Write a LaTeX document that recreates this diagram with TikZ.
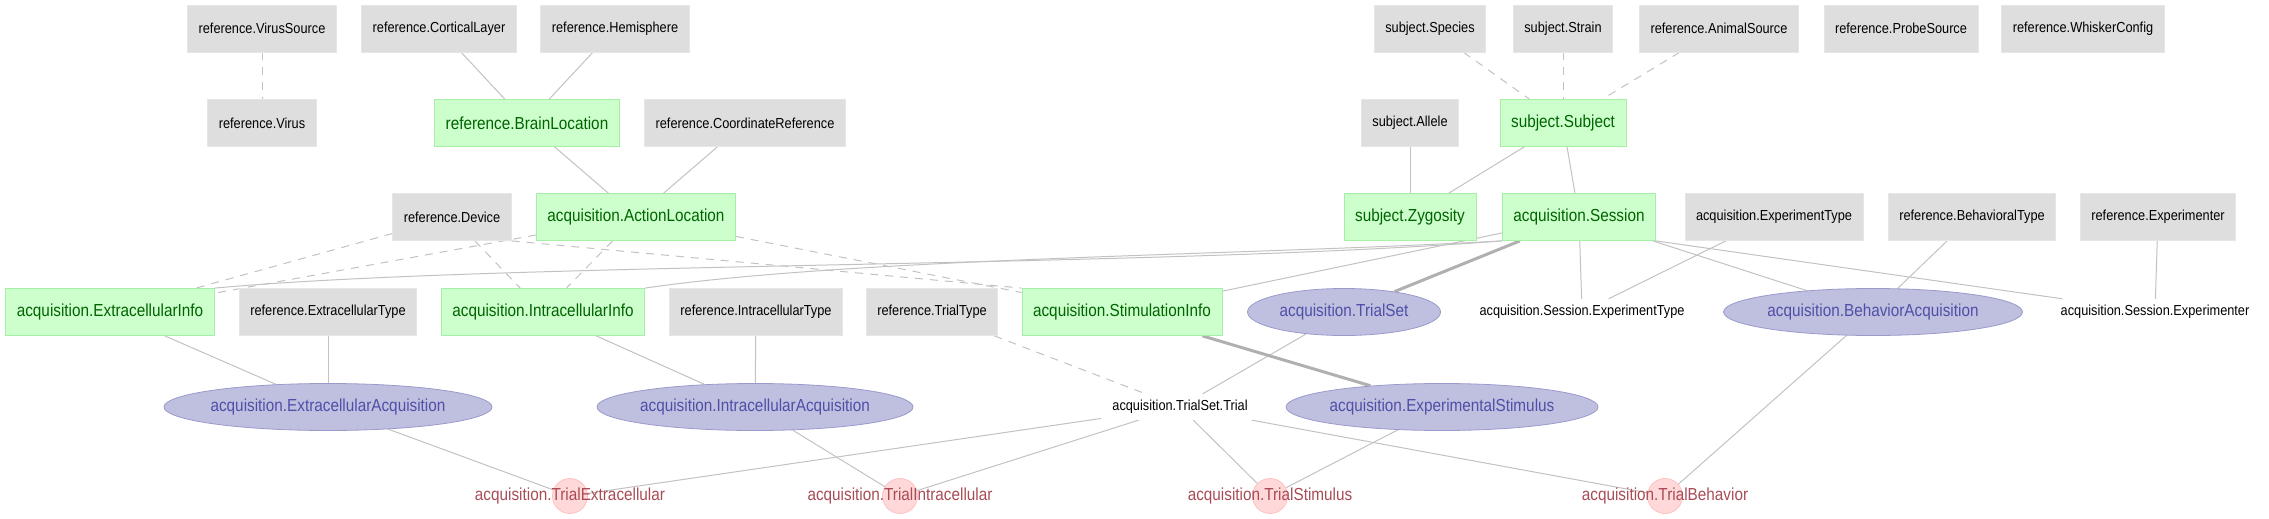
\documentclass[tikz,border=0pt]{standalone}
\usepackage{fontspec}
\newfontfamily\gvfont{Liberation Sans}[FakeStretch=0.88]
\usetikzlibrary{shapes.geometric,backgrounds}
\definecolor{lkfill}{HTML}{DEDEDE}
\definecolor{lkdraw}{HTML}{E6E6E6}
\definecolor{mnfill}{HTML}{CCFFCC}
\definecolor{mndraw}{HTML}{A6F0A6}
\definecolor{mntext}{HTML}{006400}
\definecolor{imfill}{HTML}{BFBFDF}
\definecolor{imdraw}{HTML}{9A9ACC}
\definecolor{imtext}{HTML}{4F4FA8}
\definecolor{cpfill}{HTML}{FFD9D9}
\definecolor{cpdraw}{HTML}{FFC0C0}
\definecolor{cptext}{HTML}{A84B55}
\definecolor{edgecol}{HTML}{C2C2C2}
\definecolor{edgethick}{HTML}{B0B0B0}
\newcommand{\bigf}{\gvfont\fontsize{17.4}{20}\selectfont}
\newcommand{\smallf}{\gvfont\fontsize{14.5}{17}\selectfont}
\begin{document}
\begin{tikzpicture}[x=1pt,y=-1pt,
  lookup/.style={rectangle, fill=lkfill, draw=lkdraw, line width=0.8pt, minimum height=47pt, inner xsep=11pt, inner ysep=0pt, font=\smallf, text=black},
  manual/.style={rectangle, fill=mnfill, draw=mndraw, line width=0.8pt, minimum height=47pt, inner xsep=11pt, inner ysep=0pt, font=\bigf, text=mntext},
  imported/.style={ellipse, fill=imfill, draw=imdraw, line width=0.8pt, minimum height=47pt, inner xsep=-20pt, inner ysep=0pt, font=\bigf, text=imtext},
  computed/.style={circle, fill=cpfill, draw=cpdraw, line width=0.8pt, minimum size=35pt, inner sep=0pt},
  ctext/.style={text=cptext, font=\bigf, inner sep=0pt},
  partnode/.style={rectangle, minimum height=26pt, inner xsep=11pt, inner ysep=0pt, font=\smallf, text=black},
  lnk/.style={draw=edgecol, line width=1pt},
  nonkey/.style={lnk, dash pattern=on 8pt off 7pt},
  masterlnk/.style={draw=edgethick, line width=3pt}
]
\useasboundingbox (0,0) rectangle (2269,519);

% row 1
\node[lookup] (vsrc) at (262,28.5) {reference.VirusSource};
\node[lookup] (cort) at (439,28.5) {reference.CorticalLayer};
\node[lookup] (hemi) at (615,28.5) {reference.Hemisphere};
\node[lookup] (species) at (1430,28.5) {subject.Species};
\node[lookup] (strain) at (1563,28.5) {subject.Strain};
\node[lookup] (asrc) at (1719,28.5) {reference.AnimalSource};
\node[lookup] (psrc) at (1901,28.5) {reference.ProbeSource};
\node[lookup] (whisk) at (2083,28.5) {reference.WhiskerConfig};
% row 2
\node[lookup] (virus) at (262,123) {reference.Virus};
\node[manual] (brain) at (527,123) {reference.BrainLocation};
\node[lookup] (coord) at (745,123) {reference.CoordinateReference};
\node[lookup] (allele) at (1410,123) {subject.Allele};
\node[manual] (subj) at (1563,123) {subject.Subject};
% row 3
\node[lookup] (device) at (452,217) {reference.Device};
\node[manual] (aloc) at (636,217) {acquisition.ActionLocation};
\node[manual] (zyg) at (1410,217) {subject.Zygosity};
\node[manual] (sess) at (1579,217) {acquisition.Session};
\node[lookup] (etype) at (1774,217) {acquisition.ExperimentType};
\node[lookup] (btype) at (1972,217) {reference.BehavioralType};
\node[lookup] (exper) at (2158,217) {reference.Experimenter};
% row 4
\node[manual] (einfo) at (110,312) {acquisition.ExtracellularInfo};
\node[lookup] (extype) at (328,312) {reference.ExtracellularType};
\node[manual] (iinfo) at (543,312) {acquisition.IntracellularInfo};
\node[lookup] (intype) at (756,312) {reference.IntracellularType};
\node[lookup] (ttype) at (932,312) {reference.TrialType};
\node[manual] (sinfo) at (1122,312) {acquisition.StimulationInfo};
\node[imported, minimum width=193pt] (tset) at (1344,312) {acquisition.TrialSet};
\node[partnode] (setype) at (1582,312) {acquisition.Session.ExperimentType};
\node[imported, minimum width=299pt] (bacq) at (1873,312) {acquisition.BehaviorAcquisition};
\node[partnode] (sexper) at (2155,312) {acquisition.Session.Experimenter};
% row 5
\node[imported, minimum width=328pt] (eacq) at (328,407) {acquisition.ExtracellularAcquisition};
\node[imported, minimum width=316pt] (iacq) at (755,407) {acquisition.IntracellularAcquisition};
\node[partnode] (trial) at (1180,407) {acquisition.TrialSet.Trial};
\node[imported, minimum width=312pt] (estim) at (1442,407) {acquisition.ExperimentalStimulus};
% row 6
\node[computed, label={[ctext]center:acquisition.TrialExtracellular}] (tex) at (570,496) {};
\node[computed, label={[ctext]center:acquisition.TrialIntracellular}] (tin) at (900,496) {};
\node[computed, label={[ctext]center:acquisition.TrialStimulus}] (tst) at (1270,496) {};
\node[computed, label={[ctext]center:acquisition.TrialBehavior}] (tbe) at (1665,496) {};

\begin{pgfonlayer}{background}
\draw[nonkey] (vsrc) -- (virus);
\draw[lnk] (cort) -- (brain);
\draw[lnk] (hemi) -- (brain);
\draw[lnk] (brain) -- (aloc);
\draw[lnk] (coord) -- (aloc);
\draw[nonkey] (species) -- (subj);
\draw[nonkey] (strain) -- (subj);
\draw[nonkey] (asrc) -- (subj);
\draw[lnk] (allele) -- (zyg);
\draw[lnk] (subj) -- (zyg);
\draw[lnk] (subj) -- (sess);
\draw[nonkey] (device) -- (einfo);
\draw[nonkey] (device) -- (iinfo);
\draw[nonkey] (device.south east) -- (sinfo.north west);
\draw[nonkey] (aloc) -- (einfo);
\draw[nonkey] (aloc) -- (iinfo);
\draw[nonkey] (aloc) -- (sinfo);
\draw[lnk] (sess.south west) .. controls (1150,268) and (500,262) .. (einfo.north east);
\draw[lnk] (sess.south west) .. controls (1250,255) and (850,258) .. (iinfo.north east);
\draw[lnk] (sess) -- (sinfo);
\draw[masterlnk] (sess) -- (tset);
\draw[lnk] (sess) -- (setype);
\draw[lnk] (etype) -- (setype);
\draw[lnk] (sess) -- (bacq);
\draw[lnk] (btype) -- (bacq);
\draw[lnk] (sess.south east) -- (sexper);
\draw[lnk] (exper) -- (sexper);
\draw[lnk] (einfo) -- (eacq);
\draw[lnk] (extype) -- (eacq);
\draw[lnk] (iinfo) -- (iacq);
\draw[lnk] (intype) -- (iacq);
\draw[nonkey] (ttype) -- (trial);
\draw[lnk] (tset) -- (trial);
\draw[masterlnk] (sinfo) -- (estim);
\draw[lnk] (eacq) -- (tex);
\draw[lnk] (trial) -- (tex);
\draw[lnk] (iacq) -- (tin);
\draw[lnk] (trial) -- (tin);
\draw[lnk] (trial) -- (tst);
\draw[lnk] (estim) -- (tst);
\draw[lnk] (trial) -- (tbe);
\draw[lnk] (bacq) -- (tbe);
\end{pgfonlayer}
\end{tikzpicture}
\end{document}
